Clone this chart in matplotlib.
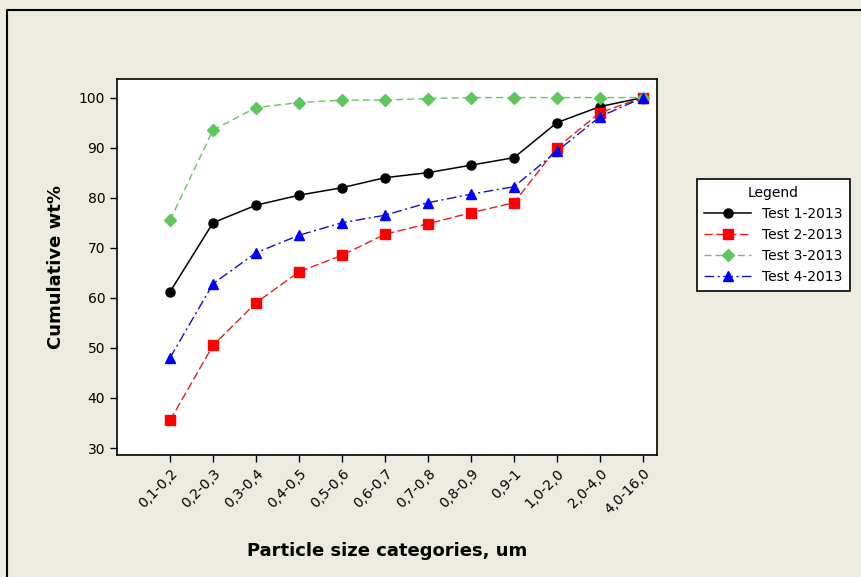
import matplotlib.pyplot as plt
from matplotlib.lines import Line2D
import numpy as np

# DATA
categories = ['0,1-0,2', '0,2-0,3', '0,3-0,4', '0,4-0,5', '0,5-0,6', '0,6-0,7',
              '0,7-0,8', '0,8-0,9', '0,9-1', '1,0-2,0', '2,0-4,0', '4,0-16,0']
test1 = [61.2, 75.0, 78.5, 80.5, 82.0, 84.0, 85.0, 86.5, 88.0, 95.0, 98.2, 100.0]
test2 = [35.5, 50.5, 59.0, 65.2, 68.5, 72.7, 74.8, 77.0, 79.0, 90.0, 97.0, 100.0]
test3 = [75.5, 93.5, 98.0, 99.0, 99.5, 99.5, 99.8, 100.0, 100.0, 100.0, 100.0, 100.0]
test4 = [48.0, 62.8, 69.0, 72.5, 75.0, 76.5, 79.0, 80.7, 82.2, 89.3, 96.2, 100.0]

BG = '#EDEAE0'
plt.rcParams['font.family'] = 'DejaVu Sans'

fig = plt.figure(figsize=(8.61, 5.77), dpi=100, facecolor=BG)
ax = fig.add_axes([0.1359, 0.2114, 0.6272, 0.6516])
x = np.arange(len(categories))

ax.plot(x, test1, color='black', lw=1.1, marker='o', ms=6.5, label='Test 1-2013')
ax.plot(x, test2, color='#E02020', lw=1.0, ls=(0, (6, 2.5)), marker='s', ms=6.5,
        mfc='#FF0000', mec='#FF0000', label='Test 2-2013')
ax.plot(x, test3, color='#66C266', lw=1.0, ls=(0, (5, 3)), marker='D', ms=6,
        mfc='#5CC85C', mec='#5CC85C', label='Test 3-2013')
ax.plot(x, test4, color='#1010C0', lw=1.0, ls=(0, (7, 2.5, 1.5, 2.5)), marker='^', ms=7.5,
        mfc='#0000FF', mec='#0000FF', label='Test 4-2013')

ax.set_xlim(-1.233, 11.326)
ax.set_ylim(28.6, 103.7)
ax.set_yticks([30, 40, 50, 60, 70, 80, 90, 100])
ax.set_xticks(x)
ax.set_xticklabels(categories, rotation=45, ha='right', rotation_mode='anchor')
ax.tick_params(axis='both', direction='out', length=5, width=1, labelsize=10, colors='black')
ax.tick_params(axis='x', pad=3)
for s in ax.spines.values():
    s.set_linewidth(1.2)

ax.set_ylabel('Cumulative wt%', fontsize=13, fontweight='bold', labelpad=10)
ax.set_xlabel('Particle size categories, um', fontsize=13, fontweight='bold', labelpad=18)

leg = ax.legend(title='Legend', loc='upper left', bbox_to_anchor=(1.074, 0.733),
                borderaxespad=0, fontsize=10, title_fontsize=10, frameon=True,
                fancybox=False, edgecolor='black', handlelength=3.4, borderpad=0.5,
                labelspacing=0.5, framealpha=1, facecolor='white')
leg.get_frame().set_linewidth(1.2)

# outer frame (left and top edges)
fig.add_artist(Line2D([7 / 861, 7 / 861, 1.0], [0.0, 1 - 10 / 577, 1 - 10 / 577],
                      transform=fig.transFigure, color='black', lw=1.5))

fig.savefig('out.png', dpi=100, facecolor=BG)
